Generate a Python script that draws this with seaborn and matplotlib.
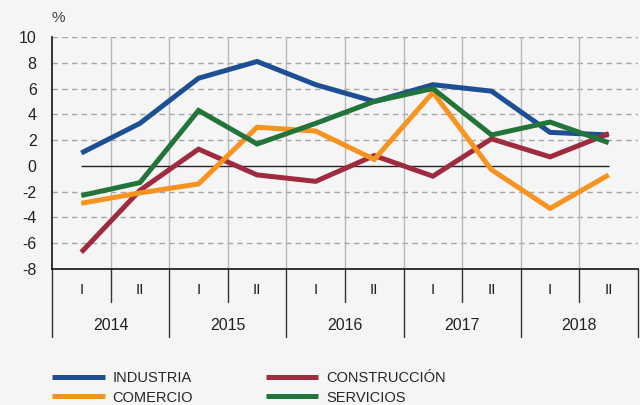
import matplotlib
matplotlib.use("Agg")
import matplotlib.pyplot as plt
import seaborn as sns
import pandas as pd
import numpy as np
from matplotlib.lines import Line2D

# ---- data ----
years = ["2014", "2015", "2016", "2017", "2018"]
semesters = ["I", "II"]
industria = [1.0, 3.3, 6.8, 8.1, 6.3, 5.0, 6.3, 5.8, 2.6, 2.4]
construccion = [-6.7, -1.9, 1.3, -0.7, -1.2, 0.8, -0.8, 2.1, 0.7, 2.5]
comercio = [-2.9, -2.1, -1.4, 3.0, 2.7, 0.5, 5.7, -0.3, -3.3, -0.7]
servicios = [-2.3, -1.3, 4.3, 1.7, 3.3, 5.0, 6.0, 2.4, 3.4, 1.8]
series_names = ["INDUSTRIA", "CONSTRUCCIÓN", "COMERCIO", "SERVICIOS"]
yticks = [-8, -6, -4, -2, 0, 2, 4, 6, 8, 10]

colors = {"INDUSTRIA": "#1c4f94", "CONSTRUCCIÓN": "#9f2b40",
          "COMERCIO": "#f7931f", "SERVICIOS": "#22743a"}

n = len(industria)
x = np.arange(n)
df = pd.DataFrame({
    "x": np.tile(x, 4),
    "value": industria + construccion + comercio + servicios,
    "serie": np.repeat(series_names, n),
})

sns.set_theme(style="white")
plt.rcParams["font.family"] = ["Liberation Sans", "DejaVu Sans"]
BG = "#f5f5f5"

fig = plt.figure(figsize=(6.4, 4.05), dpi=100, facecolor=BG)
ax = fig.add_axes([52 / 640, 1 - 269 / 405, 586 / 640, 232 / 405])
ax.set_facecolor(BG)

ax.set_xlim(-0.5, n - 0.5)
ax.set_ylim(-8, 10)

# grid
for yv in yticks:
    if yv == 0 or yv == -8:
        continue
    ax.axhline(yv, color="#a5a5a5", lw=1.0, ls=(0, (4, 3)), zorder=1)
for b in np.arange(0.5, n - 1, 1.0):
    ax.axvline(b, color="#b8b8b8", lw=1.0, zorder=1)
ax.hlines(0, 0, n - 1, color="#222222", lw=1.0, zorder=2)

sns.lineplot(data=df, x="x", y="value", hue="serie", palette=colors,
             hue_order=series_names, linewidth=3.6, legend=False, ax=ax,
             zorder=3)
for l in ax.lines:
    l.set_solid_capstyle("butt")
    l.set_solid_joinstyle("miter")

ax.set_yticks(yticks)
ax.set_yticklabels([str(v) for v in yticks], fontsize=11.5, color="#222222")
ax.tick_params(axis="y", direction="in", length=4, width=1, pad=11, color="#222222")
ax.set_xticks([])
ax.set_xlabel("")
ax.set_ylabel("")
for s in ["top", "right"]:
    ax.spines[s].set_visible(False)
for s in ["left", "bottom"]:
    ax.spines[s].set_color("#111111")
    ax.spines[s].set_linewidth(1.2)

# category axis below
tr = ax.get_xaxis_transform()
h = 232.0
for b in np.arange(0.5, n, 2.0):
    ax.plot([b, b], [0, -33 / h], transform=tr, color="#333333", lw=1.0, clip_on=False)
for b in np.arange(-0.5, n + 0.5, 2.0):
    ax.plot([b, b], [0, -68 / h], transform=tr, color="#333333", lw=1.0, clip_on=False)
for i in range(n):
    ax.text(i, -21 / h, semesters[i % 2], transform=tr, ha="center", va="center",
            fontsize=11, color="#222222")
for j, yr in enumerate(years):
    ax.text(2 * j + 0.5, -56 / h, yr, transform=tr, ha="center", va="center",
            fontsize=11.5, color="#222222")

fig.text(52 / 640, 1 - 18 / 405, "%", ha="left", va="center", fontsize=11, color="#444444")

handles = [Line2D([0], [0], color=colors[s], lw=3.6, solid_capstyle="butt") for s in
           ["INDUSTRIA", "COMERCIO", "CONSTRUCCIÓN", "SERVICIOS"]]
labels = ["INDUSTRIA", "COMERCIO", "CONSTRUCCIÓN", "SERVICIOS"]
fig.legend(handles, labels, loc="upper left", bbox_to_anchor=(52 / 640, 1 - 371 / 405),
           ncol=2, frameon=False, borderpad=0, borderaxespad=0, handlelength=3.6,
           handletextpad=0.55, columnspacing=5.0, labelspacing=0.38,
           prop={"family": ["Liberation Sans", "DejaVu Sans"], "size": 10.5})

fig.savefig("out.png", dpi=100, facecolor=BG)
